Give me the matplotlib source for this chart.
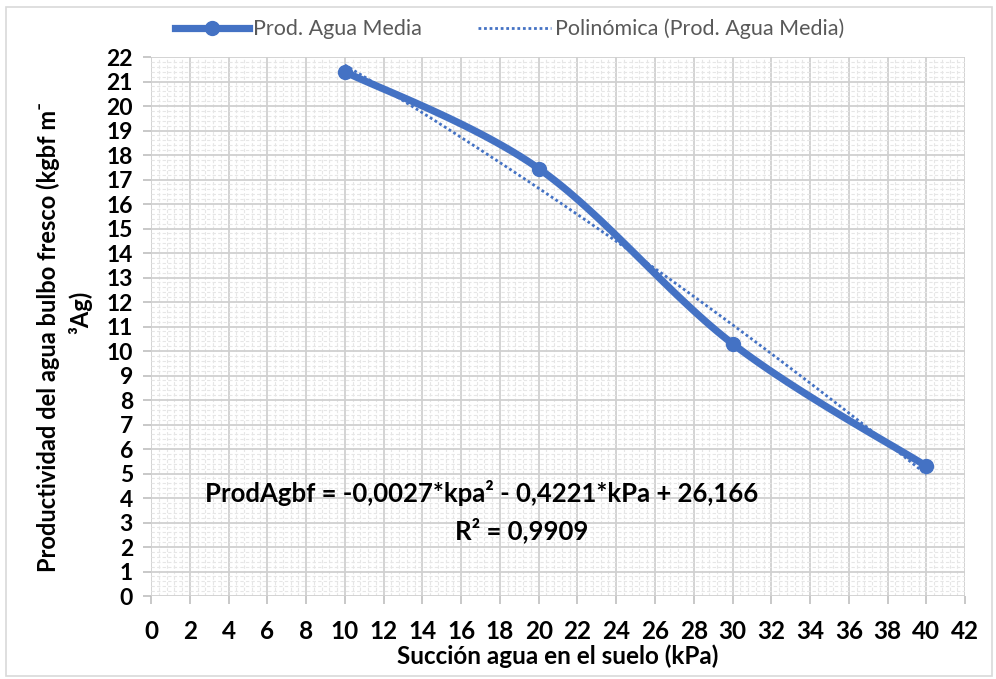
import numpy as np
import matplotlib.pyplot as plt
from matplotlib.patches import Rectangle
from matplotlib.lines import Line2D

# Water productivity vs soil water suction
succion = [10, 20, 30, 40]
prod_agua = [21.4, 17.45, 10.3, 5.3]

# quadratic trendline coefficients (a*x^2 + b*x + c)
coef = [-0.0027, -0.4221, 26.166]
r2 = 0.9909

x_ticks = list(range(0, 43, 2))
y_ticks = list(range(0, 23))

BLUE = "#4472C4"
FONT = ["Lato", "DejaVu Sans"]
plt.rcParams["font.family"] = FONT


def smooth(xs, ys, n=40):
    # Catmull-Rom style bezier smoothing, like a spreadsheet "smoothed line"
    xs = np.asarray(xs, float)
    ys = np.asarray(ys, float)
    px = np.concatenate([[xs[0]], xs, [xs[-1]]])
    py = np.concatenate([[ys[0]], ys, [ys[-1]]])
    outx, outy = [], []
    t = np.linspace(0, 1, n)
    for i in range(1, len(px) - 2):
        p0 = np.array([px[i], py[i]])
        p3 = np.array([px[i + 1], py[i + 1]])
        c1 = p0 + (np.array([px[i + 1], py[i + 1]]) - np.array([px[i - 1], py[i - 1]])) / 6
        c2 = p3 - (np.array([px[i + 2], py[i + 2]]) - np.array([px[i], py[i]])) / 6
        b = ((1 - t) ** 3)[:, None] * p0 + (3 * (1 - t) ** 2 * t)[:, None] * c1 \
            + (3 * (1 - t) * t ** 2)[:, None] * c2 + (t ** 3)[:, None] * p3
        outx.extend(b[:, 0])
        outy.extend(b[:, 1])
    return outx, outy


fig = plt.figure(figsize=(9.96, 6.79), dpi=100)
ax = fig.add_axes([0.1516, 0.1222, 0.8174, 0.7938])

# chart area border
fig.patches.append(Rectangle((0.006, 0.004), 0.99, 0.985, transform=fig.transFigure,
                             fill=False, edgecolor="#d9d9d9", linewidth=1.2))

ax.set_xlim(0, 42)
ax.set_ylim(0, 22)
ax.set_xticks(x_ticks)
ax.set_yticks(y_ticks)
ax.set_xticks(np.arange(0, 42.01, 0.4), minor=True)
ax.set_yticks(np.arange(0, 22.01, 0.2), minor=True)
ax.grid(which="major", color="#d0d0d0", linewidth=1.3)
ax.grid(which="minor", color="#e6e6e6", linewidth=0.8, linestyle=(0, (3, 2)))
ax.set_axisbelow(True)
for s in ax.spines.values():
    s.set_visible(False)
ax.tick_params(which="minor", length=0)
ax.tick_params(which="major", length=6, color="#bfbfbf", width=1.2)
ax.tick_params(axis="x", labelsize=17.5, pad=11)
ax.tick_params(axis="y", labelsize=16.5, pad=7)
for lbl in ax.get_xticklabels() + ax.get_yticklabels():
    lbl.set_fontweight("bold")

# trendline
xt = np.linspace(succion[0], succion[-1], 200)
ax.plot(xt, np.polyval(coef, xt), color=BLUE, linewidth=2, linestyle=(0, (1, 1)),
        zorder=3)

# smoothed data line
sx, sy = smooth(succion, prod_agua)
ax.plot(sx, sy, color=BLUE, linewidth=5.2, solid_capstyle="round", zorder=4)
ax.plot(succion, prod_agua, "o", color=BLUE, markersize=10, zorder=5)

ax.text(17.07, 4.2, "ProdAgbf = -0,0027*kpa² - 0,4221*kPa + 26,166",
        ha="center", va="center", fontsize=18.5, fontweight="bold")
ax.text(19.14, 2.69, f"R² = {r2:.4f}".replace(".", ","), ha="center", va="center",
        fontsize=18.5, fontweight="bold")

ax.set_xlabel("Succión agua en el suelo (kPa)", fontsize=17.5, fontweight="bold",
              labelpad=1)
fig.text(0.048, 0.504, "Productividad del agua bulbo fresco (kgbf m⁻",
         rotation=90, ha="center", va="center", fontsize=17, fontweight="bold")
fig.text(0.081, 0.54, "³Ag)", rotation=90, ha="center", va="center",
         fontsize=17, fontweight="bold")

handles = [
    Line2D([], [], color=BLUE, linewidth=5.2, marker="o", markersize=10),
    Line2D([], [], color=BLUE, linewidth=2, linestyle=(0, (1, 1))),
]
fig.legend(handles, ["Prod. Agua Media", "Polinómica (Prod. Agua Media)"],
           loc="center", bbox_to_anchor=(0.512, 0.957), ncol=2, frameon=False,
           fontsize=15.5, labelcolor="#595959", handlelength=3.4,
           columnspacing=2.6, handletextpad=0.2)

fig.savefig("out.png", dpi=100, facecolor="white")
